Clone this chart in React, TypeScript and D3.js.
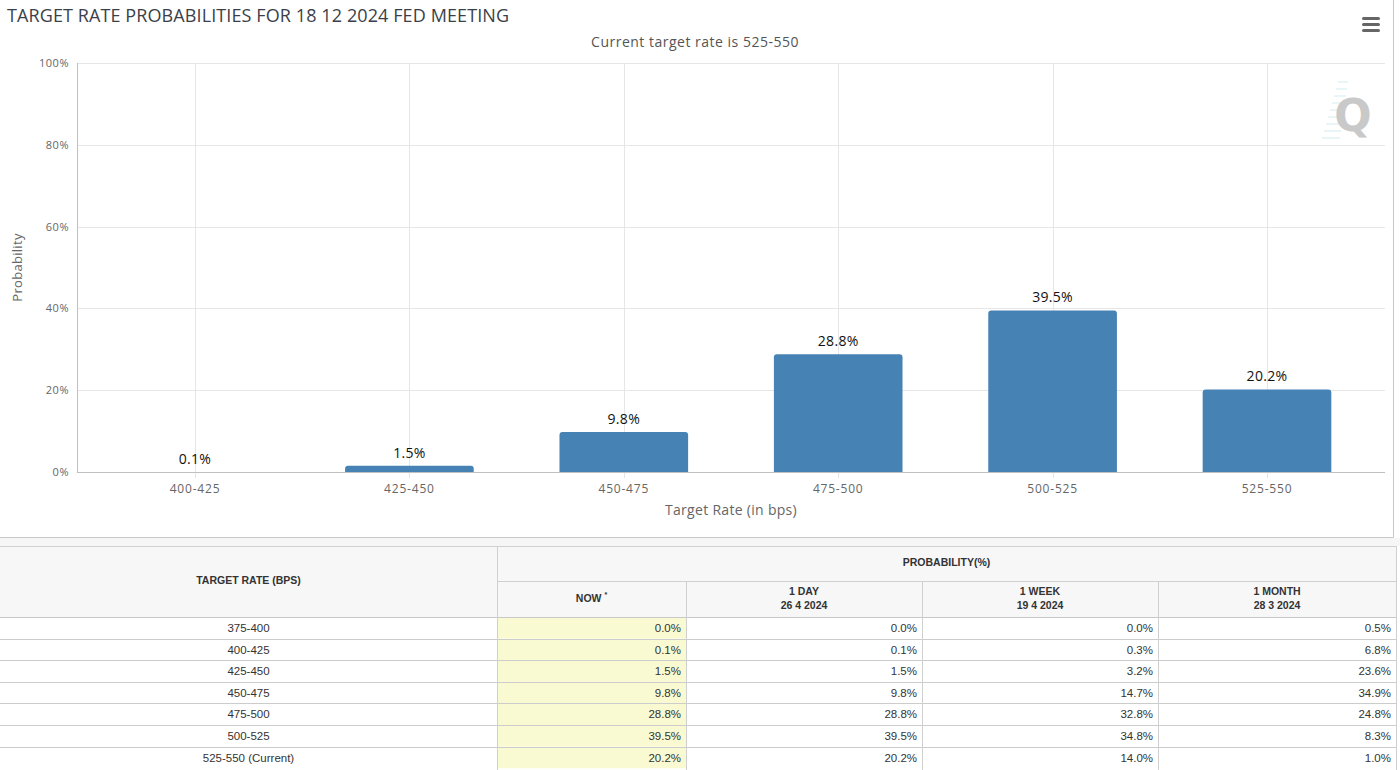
import React from "react";
import * as d3 from "d3";

const chartTitle = "TARGET RATE PROBABILITIES FOR 18 12 2024 FED MEETING";
const chartSubtitle = "Current target rate is 525-550";
const chartCategories = ["400-425", "425-450", "450-475", "475-500", "500-525", "525-550"];
const chartValues = [0.1, 1.5, 9.8, 28.8, 39.5, 20.2];
const yTicks = [0, 20, 40, 60, 80, 100];

const tableRates = ["375-400", "400-425", "425-450", "450-475", "475-500", "500-525", "525-550 (Current)"];
const nowValues = ["0.0%", "0.1%", "1.5%", "9.8%", "28.8%", "39.5%", "20.2%"];
const dayValues = ["0.0%", "0.1%", "1.5%", "9.8%", "28.8%", "39.5%", "20.2%"];
const weekValues = ["0.0%", "0.3%", "3.2%", "14.7%", "32.8%", "34.8%", "14.0%"];
const monthValues = ["0.5%", "6.8%", "23.6%", "34.9%", "24.8%", "8.3%", "1.0%"];
const colHeaders = [["NOW"], ["1 DAY", "26 4 2024"], ["1 WEEK", "19 4 2024"], ["1 MONTH", "28 3 2024"]];

const FONT = "'Open Sans', 'DejaVu Sans', sans-serif";
const TFONT = "'Liberation Sans', Arial, sans-serif";

export default function App() {
  const plotLeft = 77;
  const plotRight = 1385;
  const plotTop = 63;
  const plotBottom = 472;
  const x = d3.scalePoint<string>().domain(chartCategories).range([195, 1267]);
  const step = x.step();
  const barW = step * 0.6;
  const y = d3.scaleLinear().domain([0, 100]).range([plotBottom, plotTop]);

  const barPath = (cx: number, v: number) => {
    const x0 = cx - barW / 2;
    const x1 = cx + barW / 2;
    const yt = y(v);
    const h = plotBottom - yt;
    const r = Math.min(3, h);
    if (h <= 0.5) return "";
    return `M${x0},${plotBottom} L${x0},${yt + r} Q${x0},${yt} ${x0 + r},${yt} L${x1 - r},${yt} Q${x1},${yt} ${x1},${yt + r} L${x1},${plotBottom} Z`;
  };

  const colX = [0, 497, 686, 922, 1158, 1396];
  const tTop = 546;
  const h1 = 581;
  const h2 = 617;
  const rowH = 21.6;
  const rowYs = tableRates.map((_, i) => h2 + i * rowH);
  const cols = [nowValues, dayValues, weekValues, monthValues];

  return (
    <svg width={1400} height={770} style={{ position: "absolute", left: 0, top: 0, background: "#fff" }}>
      <rect x={0} y={0} width={1400} height={770} fill="#fff" />
      <line x1={1393.5} y1={0} x2={1393.5} y2={537.5} stroke="#c8c8c8" />
      <line x1={0} y1={537.5} x2={1393.5} y2={537.5} stroke="#c8c8c8" />

      <text x={7} y={22} fontFamily={FONT} fontSize={18} fill="#3b3f4a" letterSpacing={0.1}>{chartTitle}</text>
      <text x={695} y={47} textAnchor="middle" fontFamily={FONT} fontSize={14} fill="#555" letterSpacing={0.5}>{chartSubtitle}</text>

      {[0, 1, 2].map((i) => (
        <rect key={i} x={1362} y={17 + i * 6} width={18} height={3} rx={1.5} fill="#666" />
      ))}

      <g opacity={0.9}>
        {d3.range(9).map((i) => (
          <line key={i} x1={1322 + i * 2} y1={138 - i * 7} x2={1340 + i * 1} y2={138 - i * 7} stroke="#d8ecf2" strokeWidth={1.2} />
        ))}
        <text x={1353} y={131} textAnchor="middle" fontFamily="'DejaVu Sans', sans-serif" fontWeight="bold" fontSize={44} fill="#c4c4c4">Q</text>
      </g>

      {yTicks.map((t) => (
        <line key={t} x1={plotLeft} x2={plotRight} y1={Math.round(y(t)) + 0.5} y2={Math.round(y(t)) + 0.5} stroke="#e6e6e6" />
      ))}
      {chartCategories.map((c) => (
        <line key={c} x1={Math.round(x(c)!) + 0.5} x2={Math.round(x(c)!) + 0.5} y1={plotTop} y2={plotBottom + 6} stroke="#e6e6e6" />
      ))}

      {chartCategories.map((c, i) => (
        <path key={c} d={barPath(x(c)!, chartValues[i])} fill="#4682b4" />
      ))}

      <line x1={plotLeft + 0.5} x2={plotLeft + 0.5} y1={plotTop} y2={plotBottom} stroke="#c0c0c0" />
      <line x1={plotLeft} x2={plotRight} y1={plotBottom + 0.5} y2={plotBottom + 0.5} stroke="#c0c0c0" />

      {yTicks.map((t) => (
        <text key={t} x={69} y={y(t) + 4} textAnchor="end" fontFamily={FONT} fontSize={11} fill="#666" letterSpacing={0.5}>{t}%</text>
      ))}
      <text transform={`translate(22,${(plotTop + plotBottom) / 2}) rotate(-90)`} textAnchor="middle" fontFamily={FONT} fontSize={13} fill="#666" letterSpacing={0.3}>Probability</text>

      {chartCategories.map((c) => (
        <text key={c} x={x(c)!} y={493} textAnchor="middle" fontFamily={FONT} fontSize={12} fill="#666" letterSpacing={0.8}>{c}</text>
      ))}
      <text x={731} y={515} textAnchor="middle" fontFamily={FONT} fontSize={14} fill="#666" letterSpacing={0.3}>Target Rate (in bps)</text>

      {chartCategories.map((c, i) => (
        <text key={c} x={x(c)!} y={y(chartValues[i]) - 8} textAnchor="middle" fontFamily={FONT} fontSize={14} fill="#111" letterSpacing={0.3}>{chartValues[i].toFixed(1)}%</text>
      ))}

      <rect x={0} y={538} width={1400} height={8} fill="#f6f6f6" />
      <rect x={0} y={tTop} width={colX[5]} height={h2 - tTop} fill="#f7f7f7" />
      {rowYs.map((ry, i) => (
        <rect key={i} x={colX[1]} y={ry} width={colX[2] - colX[1]} height={rowH} fill="#fafad2" />
      ))}
      <line x1={0} x2={colX[5]} y1={tTop + 0.5} y2={tTop + 0.5} stroke="#d0d0d0" />
      <line x1={colX[1]} x2={colX[5]} y1={h1 + 0.5} y2={h1 + 0.5} stroke="#d0d0d0" />
      <line x1={0} x2={colX[5]} y1={h2 + 0.5} y2={h2 + 0.5} stroke="#c8c8c8" />
      {rowYs.slice(1).map((ry, i) => (
        <line key={i} x1={0} x2={colX[5]} y1={Math.round(ry) + 0.5} y2={Math.round(ry) + 0.5} stroke="#cccccc" />
      ))}
      <line x1={colX[1] + 0.5} x2={colX[1] + 0.5} y1={tTop} y2={770} stroke="#d0d0d0" />
      {colX.slice(2, 5).map((cx) => (
        <line key={cx} x1={cx + 0.5} x2={cx + 0.5} y1={h1} y2={770} stroke="#d0d0d0" />
      ))}
      <line x1={colX[5] + 0.5} x2={colX[5] + 0.5} y1={tTop} y2={770} stroke="#d0d0d0" />

      <text x={colX[1] / 2} y={584} textAnchor="middle" fontFamily={TFONT} fontSize={10.5} fontWeight="bold" fill="#333">TARGET RATE (BPS)</text>
      <text x={(colX[1] + colX[5]) / 2} y={566} textAnchor="middle" fontFamily={TFONT} fontSize={10.5} fontWeight="bold" fill="#333">PROBABILITY(%)</text>
      {colHeaders.map((lines, i) => {
        const cx = (colX[i + 1] + colX[i + 2]) / 2;
        if (lines.length === 1) {
          return (
            <text key={i} x={cx} y={602} textAnchor="middle" fontFamily={TFONT} fontSize={10.5} fontWeight="bold" fill="#333">
              {lines[0]}
              <tspan dx={3} dy={-5} fontSize={7}>*</tspan>
            </text>
          );
        }
        return (
          <g key={i}>
            <text x={cx} y={595} textAnchor="middle" fontFamily={TFONT} fontSize={10.5} fontWeight="bold" fill="#333">{lines[0]}</text>
            <text x={cx} y={609} textAnchor="middle" fontFamily={TFONT} fontSize={10.5} fontWeight="bold" fill="#333">{lines[1]}</text>
          </g>
        );
      })}

      {tableRates.map((r, i) => (
        <text key={r} x={colX[1] / 2} y={rowYs[i] + 15} textAnchor="middle" fontFamily={TFONT} fontSize={11.5} fill="#333">{r}</text>
      ))}
      {cols.map((vals, ci) =>
        vals.map((v, ri) => (
          <text key={`${ci}-${ri}`} x={colX[ci + 2] - 5} y={rowYs[ri] + 15} textAnchor="end" fontFamily={TFONT} fontSize={11.5} fill="#333">{v}</text>
        ))
      )}
    </svg>
  );
}
